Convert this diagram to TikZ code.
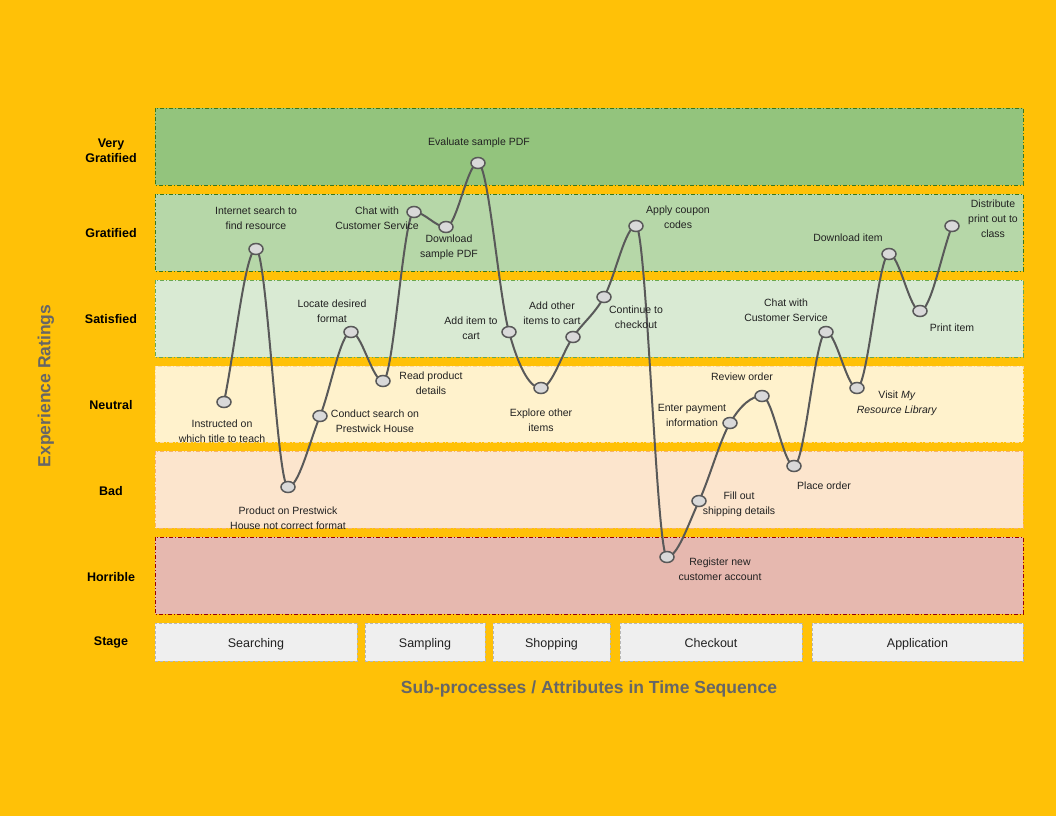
\documentclass[tikz,border=0pt]{standalone}
\usepackage{fontspec}
\setmainfont{Liberation Sans}
\usetikzlibrary{shapes.geometric}
\definecolor{bg}{HTML}{FFC107}
\definecolor{vgfill}{HTML}{93C47D}
\definecolor{gfill}{HTML}{B6D7A8}
\definecolor{sfill}{HTML}{D9EAD3}
\definecolor{nfill}{HTML}{FFF2CC}
\definecolor{bfill}{HTML}{FCE5CD}
\definecolor{hfill}{HTML}{E6B8AF}
\definecolor{stfill}{HTML}{EFEFEF}
\definecolor{greenline}{HTML}{38761D}
\definecolor{ltgreenline}{HTML}{6AA84F}
\definecolor{yelline}{HTML}{F9D9A8}
\definecolor{orline}{HTML}{F6B26B}
\definecolor{redline}{HTML}{990000}
\definecolor{grayline}{HTML}{B7B7B7}
\definecolor{curvec}{HTML}{595959}
\definecolor{dotfill}{HTML}{D9D9D9}
\definecolor{titlec}{HTML}{666666}
\definecolor{txt}{HTML}{212121}
\begin{document}
\begin{tikzpicture}[x=1pt,y=-1pt,
  band/.style={line width=0.8pt, dash pattern=on 4pt off 2pt on 1pt off 2pt},
  rowlbl/.style={font=\fontsize{12.5}{15}\selectfont\bfseries, text=black, align=center},
  stagebox/.style={draw=grayline, fill=stfill, line width=0.8pt, dash pattern=on 3pt off 2pt,
    font=\fontsize{12.5}{15}\selectfont, text=txt, inner sep=0pt,
    text height=12.5pt, text depth=1.5pt, minimum height=38pt},
  axis/.style={font=\fontsize{17.5}{21}\selectfont\bfseries, text=titlec},
  lbl/.style={font=\fontsize{10.5}{15}\selectfont, text=txt, align=center, inner sep=0pt},
  curve/.style={draw=curvec, line width=2pt, line join=round},
  dot/.style={ellipse, draw=curvec, fill=dotfill, line width=1.5pt,
    minimum width=14pt, minimum height=11pt, inner sep=0pt}]

% background and page extent
\fill[bg] (0,0) rectangle (1056,816);
\useasboundingbox (0,0) rectangle (1056,816);

% rating bands
\draw[band, draw=greenline, fill=vgfill] (155,108) rectangle (1023,185);
\draw[band, draw=greenline, fill=gfill] (155,194) rectangle (1023,271);
\draw[band, draw=ltgreenline, fill=sfill] (155,280) rectangle (1023,357);
\draw[band, draw=yelline, fill=nfill] (155,366) rectangle (1023,442);
\draw[band, draw=orline, fill=bfill] (155,451) rectangle (1023,528);
\draw[band, draw=redline, fill=hfill] (155,537) rectangle (1023,614);

% row labels
\node[rowlbl] (rvg) at (111,151) {Very\\Gratified};
\node[rowlbl] (rg) at (111,233) {Gratified};
\node[rowlbl] (rs) at (111,319) {Satisfied};
\node[rowlbl] (rn) at (111,405) {Neutral};
\node[rowlbl] (rb) at (111,491) {Bad};
\node[rowlbl] (rh) at (111,577) {Horrible};
\node[rowlbl] (rst) at (111,642) {Stage};

% stages
\node[stagebox, minimum width=202pt] (st1) at (256,642) {Searching};
\node[stagebox, minimum width=120pt] (st2) at (425,642) {Sampling};
\node[stagebox, minimum width=117pt] (st3) at (551.5,642) {Shopping};
\node[stagebox, minimum width=182pt] (st4) at (711,642) {Checkout};
\node[stagebox, minimum width=211pt] (st5) at (917.5,642) {Application};

% axis titles
\node[axis, rotate=90] (ylab) at (46,386) {Experience Ratings};
\node[axis] (xlab) at (589,689) {Sub-processes / Attributes in Time Sequence};

% journey points
\coordinate (c1) at (224,402);
\coordinate (c2) at (256,249);
\coordinate (c3) at (288,487);
\coordinate (c4) at (320,416);
\coordinate (c5) at (351,332);
\coordinate (c6) at (383,381);
\coordinate (c7) at (414,212);
\coordinate (c8) at (446,227);
\coordinate (c9) at (478,163);
\coordinate (c10) at (509,332);
\coordinate (c11) at (541,388);
\coordinate (c12) at (573,337);
\coordinate (c13) at (604,297);
\coordinate (c14) at (636,226);
\coordinate (c15) at (667,557);
\coordinate (c16) at (699,501);
\coordinate (c17) at (730,423);
\coordinate (c18) at (762,396);
\coordinate (c19) at (794,466);
\coordinate (c20) at (826,332);
\coordinate (c21) at (857,388);
\coordinate (c22) at (889,254);
\coordinate (c23) at (920,311);
\coordinate (c24) at (952,226);

% experience curve, one cubic piece per step
\draw[curve] (c1)
  .. controls (234.67,351.0) and (245.33,249) .. (c2)
  .. controls (266.67,249) and (277.33,487) .. (c3)
  .. controls (298.67,487) and (309.33,442.35) .. (c4)
  .. controls (330.33,390.5) and (340.67,332) .. (c5)
  .. controls (361.67,332) and (372.33,381) .. (c6)
  .. controls (393.33,381) and (403.67,212) .. (c7)
  .. controls (424.67,212) and (435.33,227) .. (c8)
  .. controls (456.67,227) and (467.33,163) .. (c9)
  .. controls (488.33,163) and (498.67,294.8) .. (c10)
  .. controls (519.67,370.4) and (530.33,388) .. (c11)
  .. controls (551.67,388) and (562.33,352.4) .. (c12)
  .. controls (583.33,322.1) and (593.67,315.2) .. (c13)
  .. controls (614.67,278.2) and (625.33,226) .. (c14)
  .. controls (646.33,226) and (656.67,557) .. (c15)
  .. controls (677.67,557) and (688.33,523.8) .. (c16)
  .. controls (709.33,478.9) and (719.67,440.4) .. (c17)
  .. controls (740.67,405.1) and (751.33,396) .. (c18)
  .. controls (772.67,396) and (783.33,466) .. (c19)
  .. controls (804.67,466) and (815.33,332) .. (c20)
  .. controls (836.33,332) and (846.67,388) .. (c21)
  .. controls (867.67,388) and (878.33,254) .. (c22)
  .. controls (899.33,254) and (909.67,311) .. (c23)
  .. controls (930.67,311) and (941.33,254.4) .. (c24);

\foreach \i in {1,...,24} { \node[dot] (p\i) at (c\i) {}; }

% step labels
\node[lbl] (l1) at (222,431) {Instructed on\\which title to teach};
\node[lbl] (l2) at (256,218.5) {Internet search to\\find resource};
\node[lbl] (l3) at (288,518) {Product on Prestwick\\House not correct format};
\node[lbl] (l4) at (375,421.5) {Conduct search on\\Prestwick House};
\node[lbl] (l5) at (332,311.5) {Locate desired\\format};
\node[lbl] (l6) at (431,383.5) {Read product\\details};
\node[lbl] (l7) at (377,218.5) {Chat with\\Customer Service};
\node[lbl] (l8) at (449,247.5) {Download\\sample PDF};
\node[lbl] (l9) at (479,142.5) {Evaluate sample PDF};
\node[lbl] (l10) at (471,328.5) {Add item to\\cart};
\node[lbl] (l11) at (541,420.5) {Explore other\\items};
\node[lbl] (l12) at (552,313.5) {Add other\\items to cart};
\node[lbl] (l13) at (636,317.5) {Continue to\\checkout};
\node[lbl] (l14) at (678,217.5) {Apply coupon\\codes};
\node[lbl] (l15) at (720,569) {Register new\\customer account};
\node[lbl] (l16) at (739,504.5) {Fill out\\shipping details};
\node[lbl] (l17) at (692,415) {Enter payment\\information};
\node[lbl] (l18) at (742,376.5) {Review order};
\node[lbl] (l19) at (824,485.5) {Place order};
\node[lbl] (l20) at (786,310.5) {Chat with\\Customer Service};
\node[lbl] (l21) at (897,403) {Visit \textit{My}\\\textit{Resource Library}};
\node[lbl] (l22) at (848,237.5) {Download item};
\node[lbl] (l23) at (952,327.5) {Print item};
\node[lbl] (l24) at (993,219) {Distribute\\print out to\\class};
\end{tikzpicture}
\end{document}
